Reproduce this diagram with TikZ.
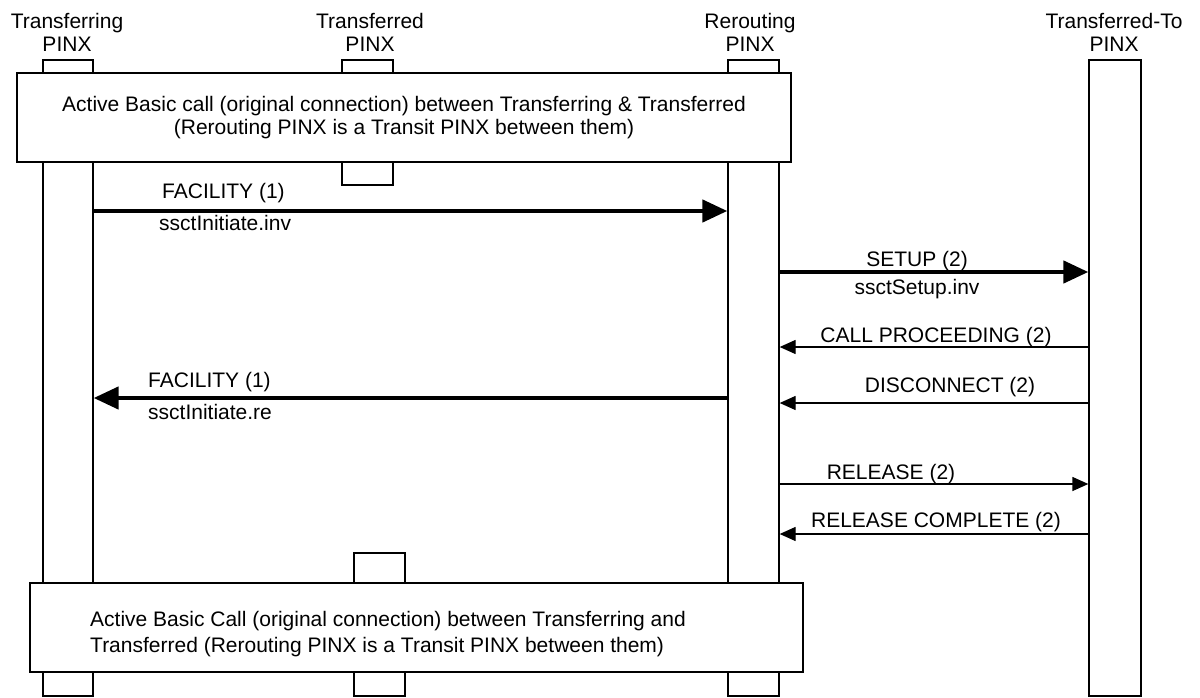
\documentclass[tikz,border=0pt]{standalone}
\usepackage{fontspec}
\setmainfont{Liberation Sans}
\usetikzlibrary{arrows.meta}

\tikzset{
  lifebar/.style={draw, line width=1.3pt, fill=white, minimum width=50pt, inner sep=0pt},
  callbox/.style={draw, line width=1.3pt, fill=white, inner sep=0pt, align=center},
  lbl/.style={inner sep=0pt},
  msg/.style={line width=1.3pt, -{Triangle[length=16pt,width=14pt]}},
  bigmsg/.style={line width=4.5pt, -{Triangle[length=25pt,width=22pt]}},
}

\begin{document}
\begin{tikzpicture}[x=1pt,y=-1pt,every node/.append style={font=\fontsize{21}{23.5}\selectfont}]
\useasboundingbox (0,0) rectangle (1200,698);

\node[align=center] (trgname) at (67,32.5) {Transferring\\PINX};
\node[align=center] (tfdname) at (370,32.5) {Transferred\\PINX};
\node[align=center] (rername) at (750,32.5) {Rerouting\\PINX};
\node[align=center] (ttoname) at (1114,32.5) {Transferred-To\\PINX};

\node[lifebar, minimum height=636pt] (trg) at (68,378) {};
\node[lifebar, minimum width=51pt, minimum height=125pt] (tfdtop) at (367.5,122.5) {};
\node[lifebar, minimum width=51pt, minimum height=143pt] (tfdbot) at (379.5,624.5) {};
\node[lifebar, minimum width=51pt, minimum height=636pt] (rer) at (753.5,378) {};
\node[lifebar, minimum width=52pt, minimum height=636pt] (tto) at (1115,378) {};

\node[callbox, minimum width=774pt, minimum height=89pt] (oldcall) at (404,117.5)
  {Active Basic call (original connection) between Transferring \& Transferred\\(Rerouting PINX is a Transit PINX between them)};
\node[callbox, minimum width=773pt, minimum height=89pt] (newcall) at (416.5,627.5) {};
\node[lbl, align=left, anchor=west, font=\fontsize{21}{26}\selectfont] (newtext) at (90,634.5)
  {Active Basic Call (original connection) between Transferring and\\Transferred (Rerouting PINX is a Transit PINX between them)};

\draw[bigmsg] (trg.east |- 0,211) -- (rer.west |- 0,211);
\node[lbl, anchor=base west] (fac1) at (162,198) {FACILITY (1)};
\node[lbl, anchor=base west] (inv1) at (159,230) {ssctInitiate.inv};

\draw[bigmsg] (rer.east |- 0,272) -- (tto.west |- 0,272);
\node[lbl, anchor=base] (setup) at (917,266) {SETUP (2)};
\node[lbl, anchor=base] (setupinv) at (917,294) {ssctSetup.inv};

\draw[msg] (tto.west |- 0,347) -- (rer.east |- 0,347);
\node[lbl, anchor=base] (callproc) at (936,342) {CALL PROCEEDING (2)};

\draw[bigmsg] (rer.west |- 0,398) -- (trg.east |- 0,398);
\node[lbl, anchor=base west] (fac2) at (148,387) {FACILITY (1)};
\node[lbl, anchor=base west] (re2) at (148,419) {ssctInitiate.re};

\draw[msg] (tto.west |- 0,403) -- (rer.east |- 0,403);
\node[lbl, anchor=base] (disc) at (950,392) {DISCONNECT (2)};

\draw[msg] (rer.east |- 0,484) -- (tto.west |- 0,484);
\node[lbl, anchor=base] (rel) at (891,479) {RELEASE (2)};

\draw[msg] (tto.west |- 0,534) -- (rer.east |- 0,534);
\node[lbl, anchor=base] (relcomp) at (936,527) {RELEASE COMPLETE (2)};
\end{tikzpicture}
\end{document}
